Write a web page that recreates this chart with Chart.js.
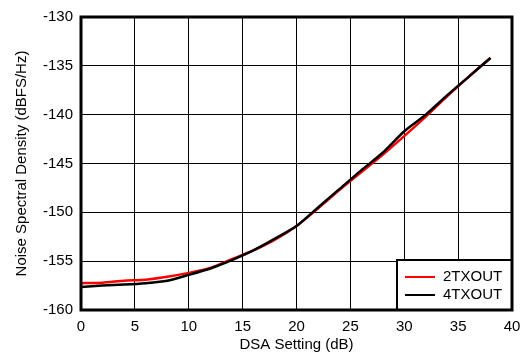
<!DOCTYPE html>
<html lang="en">
<head>
    <meta charset="UTF-8">
    <title>Noise Spectral Density vs DSA Setting</title>
    <style>
        html, body {
            margin: 0;
            padding: 0;
            background: #ffffff;
        }
        .chart-box {
            width: 523px;
            height: 354px;
        }
    </style>
    <script src="https://cdn.jsdelivr.net/npm/chart.js@4/dist/chart.umd.min.js"></script>
</head>
<body>
    <div class="chart-box">
        <canvas id="nsdChart" width="523" height="354"></canvas>
    </div>
    <script>
        // DSA setting in dB
        const dsaSetting = [0, 2, 4, 6, 8, 10, 12, 14, 16, 18, 20, 22, 24, 26, 28, 30, 32, 34, 36, 38];

        // noise spectral density, dBFS/Hz
        const nsd2TxOut = [-157.25, -157.2, -157.0, -156.9, -156.6, -156.2, -155.7, -154.8, -153.9, -152.8,
                           -151.4, -149.6, -147.7, -145.9, -144.1, -142.2, -140.2, -138.1, -136.1, -134.2];
        const nsd4TxOut = [-157.65, -157.5, -157.4, -157.25, -157.0, -156.4, -155.75, -154.9, -153.9, -152.7,
                           -151.4, -149.5, -147.6, -145.7, -143.9, -141.7, -140.0, -138.0, -136.1, -134.2];

        const seriesNames = ['2TXOUT', '4TXOUT'];
        const seriesColors = ['#ff0000', '#000000'];

        const xTicks = [0, 5, 10, 15, 20, 25, 30, 35, 40];
        const yTicks = [-160, -155, -150, -145, -140, -135, -130];

        const fontFamily = '"Liberation Sans", Arial, sans-serif';

        function toPoints(xs, ys) {
            return xs.map((x, i) => ({ x: x, y: ys[i] }));
        }

        // frame round the plot area and the legend box in its lower right corner
        const framePlugin = {
            id: 'frame',
            afterDraw(chart) {
                const ctx = chart.ctx;
                const area = chart.chartArea;
                ctx.save();

                // legend
                const boxW = 115, boxH = 50;
                const bx = area.right - boxW, by = area.bottom - boxH;
                ctx.fillStyle = '#ffffff';
                ctx.fillRect(bx, by, boxW, boxH);
                ctx.strokeStyle = '#000000';
                ctx.lineWidth = 2;
                ctx.strokeRect(bx, by, boxW, boxH);

                ctx.font = '15px ' + fontFamily;
                ctx.textBaseline = 'middle';
                ctx.textAlign = 'left';
                seriesNames.forEach((name, i) => {
                    const ly = by + 17 + i * 18;
                    ctx.strokeStyle = seriesColors[i];
                    ctx.lineWidth = 2;
                    ctx.beginPath();
                    ctx.moveTo(bx + 8, ly);
                    ctx.lineTo(bx + 38, ly);
                    ctx.stroke();
                    ctx.fillStyle = '#000000';
                    ctx.fillText(name, bx + 46, ly);
                });

                // plot border
                ctx.strokeStyle = '#000000';
                ctx.lineWidth = 3;
                ctx.strokeRect(area.left, area.top, area.right - area.left, area.bottom - area.top);
                ctx.restore();
            }
        };

        const ctx = document.getElementById('nsdChart').getContext('2d');
        new Chart(ctx, {
            type: 'line',
            data: {
                datasets: [{
                    label: seriesNames[0],
                    data: toPoints(dsaSetting, nsd2TxOut),
                    borderColor: seriesColors[0],
                    borderWidth: 2.5,
                    pointRadius: 0,
                    tension: 0.2,
                    order: 1
                }, {
                    label: seriesNames[1],
                    data: toPoints(dsaSetting, nsd4TxOut),
                    borderColor: seriesColors[1],
                    borderWidth: 2.5,
                    pointRadius: 0,
                    tension: 0.2,
                    order: 0
                }]
            },
            options: {
                responsive: false,
                animation: false,
                layout: { padding: { top: 15, right: 11, left: 0, bottom: 0 } },
                plugins: {
                    legend: { display: false },
                    tooltip: { enabled: false }
                },
                scales: {
                    x: {
                        type: 'linear',
                        min: 0,
                        max: 40,
                        afterBuildTicks: axis => { axis.ticks = xTicks.map(v => ({ value: v })); },
                        afterFit: axis => {
                            axis.height = 44;
                            axis.paddingLeft = 0;
                            axis.paddingRight = 0;
                        },
                        grid: { color: '#000000', lineWidth: 1, drawTicks: false },
                        border: { display: false },
                        ticks: {
                            color: '#000000',
                            padding: 8,
                            maxRotation: 0,
                            callback: v => String(v),
                            font: { family: fontFamily, size: 15 }
                        },
                        title: {
                            display: true,
                            text: 'DSA Setting (dB)',
                            color: '#000000',
                            padding: 0,
                            font: { family: fontFamily, size: 15 }
                        }
                    },
                    y: {
                        min: -160,
                        max: -130,
                        afterBuildTicks: axis => { axis.ticks = yTicks.map(v => ({ value: v })); },
                        afterFit: axis => { axis.width = 81; },
                        grid: { color: '#000000', lineWidth: 1, drawTicks: false },
                        border: { display: false },
                        ticks: {
                            color: '#000000',
                            padding: 8,
                            callback: v => String(v),
                            font: { family: fontFamily, size: 15 }
                        },
                        title: {
                            display: true,
                            text: 'Noise Spectral Density (dBFS/Hz)',
                            color: '#000000',
                            padding: { top: 13, bottom: 0 },
                            font: { family: fontFamily, size: 15 }
                        }
                    }
                }
            },
            plugins: [framePlugin]
        });
    </script>
</body>
</html>
